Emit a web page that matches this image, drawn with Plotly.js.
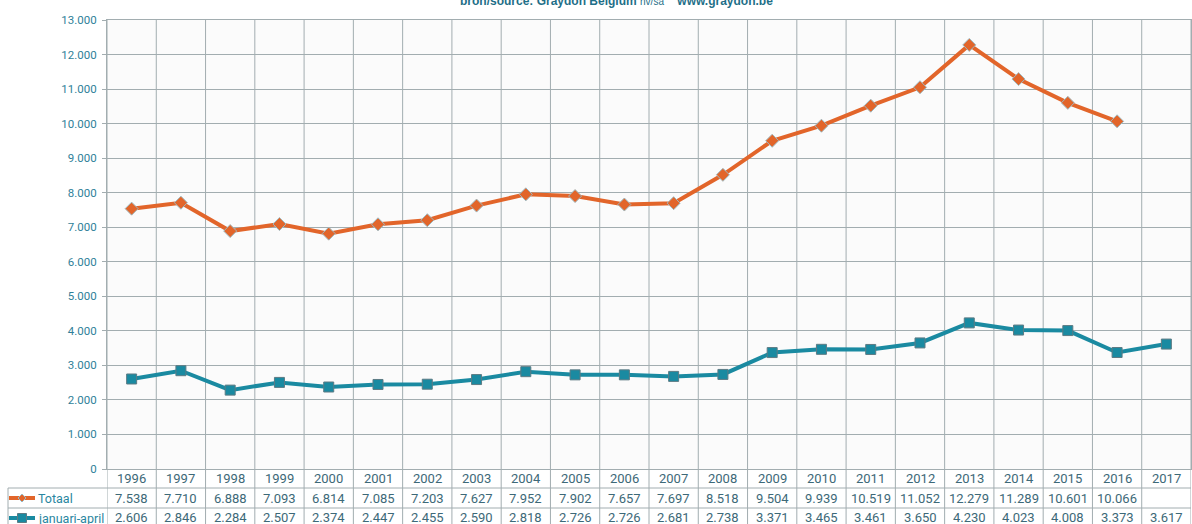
<!DOCTYPE html>
<html>
<head>
<meta charset="utf-8">
<script src="https://cdn.plot.ly/plotly-3.0.1.min.js"></script>
<style>
html,body{margin:0;padding:0;background:#fff;}
#chart{width:1192px;height:524px;}
</style>
</head>
<body>
<div id="chart"></div>
<script>
var years = ['1996','1997','1998','1999','2000','2001','2002','2003','2004','2005','2006','2007','2008','2009','2010','2011','2012','2013','2014','2015','2016','2017'];
var totaal = [7538,7710,6888,7093,6814,7085,7203,7627,7952,7902,7657,7697,8518,9504,9939,10519,11052,12279,11289,10601,10066,null];
var janApr = [2606,2846,2284,2507,2374,2447,2455,2590,2818,2726,2726,2681,2738,3371,3465,3461,3650,4230,4023,4008,3373,3617];
var seriesNames = ['Totaal','januari-april'];

var ORANGE = '#e2652a', TEAL = '#1a8aa1', GRID = '#a2adb0';
var TXT = '#3d6978', LBL = '#2a86a0';

function fmt(n){ return String(n).replace(/\B(?=(\d{3})+(?!\d))/g, '.'); }

var H = 449; // plot height px
function py(px){ return (469 - px) / H; }
function pxX(px){ return (px - 107) / 1084; }

var traces = [
  {x: years, y: totaal, name: seriesNames[0], type: 'scatter', mode: 'lines+markers',
   line: {color: ORANGE, width: 4}, connectgaps: false,
   marker: {symbol: 'diamond', size: 10, color: ORANGE, line: {color: '#9dbac2', width: 1}}},
  {x: years, y: janApr, name: seriesNames[1], type: 'scatter', mode: 'lines+markers',
   line: {color: TEAL, width: 4},
   marker: {symbol: 'square', size: 10, color: TEAL, line: {color: '#5d7b84', width: 1}}}
];

var shapes = [];
var annotations = [];

for (var i = 0; i <= years.length; i++) {
  shapes.push({type: 'line', xref: 'x', yref: 'paper', x0: i - 0.5, x1: i - 0.5,
    y0: py(526), y1: 1, line: {color: GRID, width: 1}, layer: 'below'});
}
[488, 508].forEach(function (yy) {
  shapes.push({type: 'line', xref: 'paper', yref: 'paper', x0: pxX(8), x1: 1,
    y0: py(yy), y1: py(yy), line: {color: GRID, width: 1}, layer: 'below'});
});
shapes.push({type: 'line', xref: 'paper', yref: 'paper', x0: pxX(8), x1: pxX(8),
  y0: py(488), y1: py(526), line: {color: GRID, width: 1}, layer: 'below'});

var rowsY = [498, 518];
var keyColors = [ORANGE, TEAL];
rowsY.forEach(function (ry, k) {
  shapes.push({type: 'line', xref: 'paper', yref: 'paper', x0: pxX(9), x1: pxX(35),
    y0: py(ry), y1: py(ry), line: {color: keyColors[k], width: 4}});
});
shapes.push({type: 'path', xref: 'paper', yref: 'paper',
  path: 'M ' + pxX(22) + ' ' + py(494) + ' L ' + pxX(26) + ' ' + py(498) + ' L ' + pxX(22) + ' ' + py(502) + ' L ' + pxX(18) + ' ' + py(498) + ' Z',
  fillcolor: ORANGE, line: {color: '#9dbac2', width: 1}});
shapes.push({type: 'rect', xref: 'paper', yref: 'paper', x0: pxX(17.5), x1: pxX(26.5),
  y0: py(522.5), y1: py(513.5), fillcolor: TEAL, line: {color: '#5d7b84', width: 1}});

seriesNames.forEach(function (nm, k) {
  annotations.push({xref: 'paper', yref: 'paper', x: pxX(36), y: py(rowsY[k]),
    xanchor: 'left', yanchor: 'middle', text: nm, showarrow: false,
    font: {family: 'Roboto, Arial, sans-serif', size: 12.5, color: LBL}});
});

years.forEach(function (yr, i) {
  annotations.push({xref: 'x', yref: 'paper', x: i, y: py(478.5), xanchor: 'center', yanchor: 'middle',
    text: yr, showarrow: false, font: {family: 'Roboto, Arial, sans-serif', size: 13, color: TXT}});
  if (totaal[i] !== null) {
    annotations.push({xref: 'x', yref: 'paper', x: i, y: py(498), xanchor: 'center', yanchor: 'middle',
      text: fmt(totaal[i]), showarrow: false, font: {family: 'Roboto, Arial, sans-serif', size: 13, color: TXT}});
  }
  annotations.push({xref: 'x', yref: 'paper', x: i, y: py(517.5), xanchor: 'center', yanchor: 'middle',
    text: fmt(janApr[i]), showarrow: false, font: {family: 'Roboto, Arial, sans-serif', size: 13, color: TXT}});
});

annotations.push({xref: 'paper', yref: 'paper', x: pxX(616), y: py(1), xanchor: 'center', yanchor: 'middle',
  text: '<b>bron/source: Graydon Belgium</b> <span style="font-size:10px">nv/sa</span>&nbsp;&nbsp;&nbsp;&nbsp;<b>www.graydon.be</b>',
  showarrow: false, font: {family: 'Liberation Sans, Arial, sans-serif', size: 12, color: '#1f6f88'}});

var layout = {
  width: 1192, height: 524,
  margin: {l: 107, r: 1, t: 20, b: 55, pad: 0},
  paper_bgcolor: '#ffffff', plot_bgcolor: '#fbfbfb',
  separators: ',.',
  showlegend: false,
  xaxis: {type: 'category', range: [-0.5, years.length - 0.5], showticklabels: false,
    showgrid: false, zeroline: false, showline: true, mirror: true, linecolor: GRID, linewidth: 1,
    ticks: '', fixedrange: true},
  yaxis: {range: [0, 13000], dtick: 1000, tick0: 0, tickformat: ',d', showgrid: true, gridcolor: GRID,
    gridwidth: 1, zeroline: false, showline: true, mirror: true, linecolor: GRID, linewidth: 1,
    ticks: 'outside', ticklen: 4, tickcolor: GRID, ticklabelstandoff: 3,
    tickfont: {family: 'Roboto, Arial, sans-serif', size: 11.5, color: '#2f7f99'}, fixedrange: true},
  shapes: shapes,
  annotations: annotations
};

Plotly.newPlot('chart', traces, layout, {displayModeBar: false, staticPlot: true});
</script>
</body>
</html>
